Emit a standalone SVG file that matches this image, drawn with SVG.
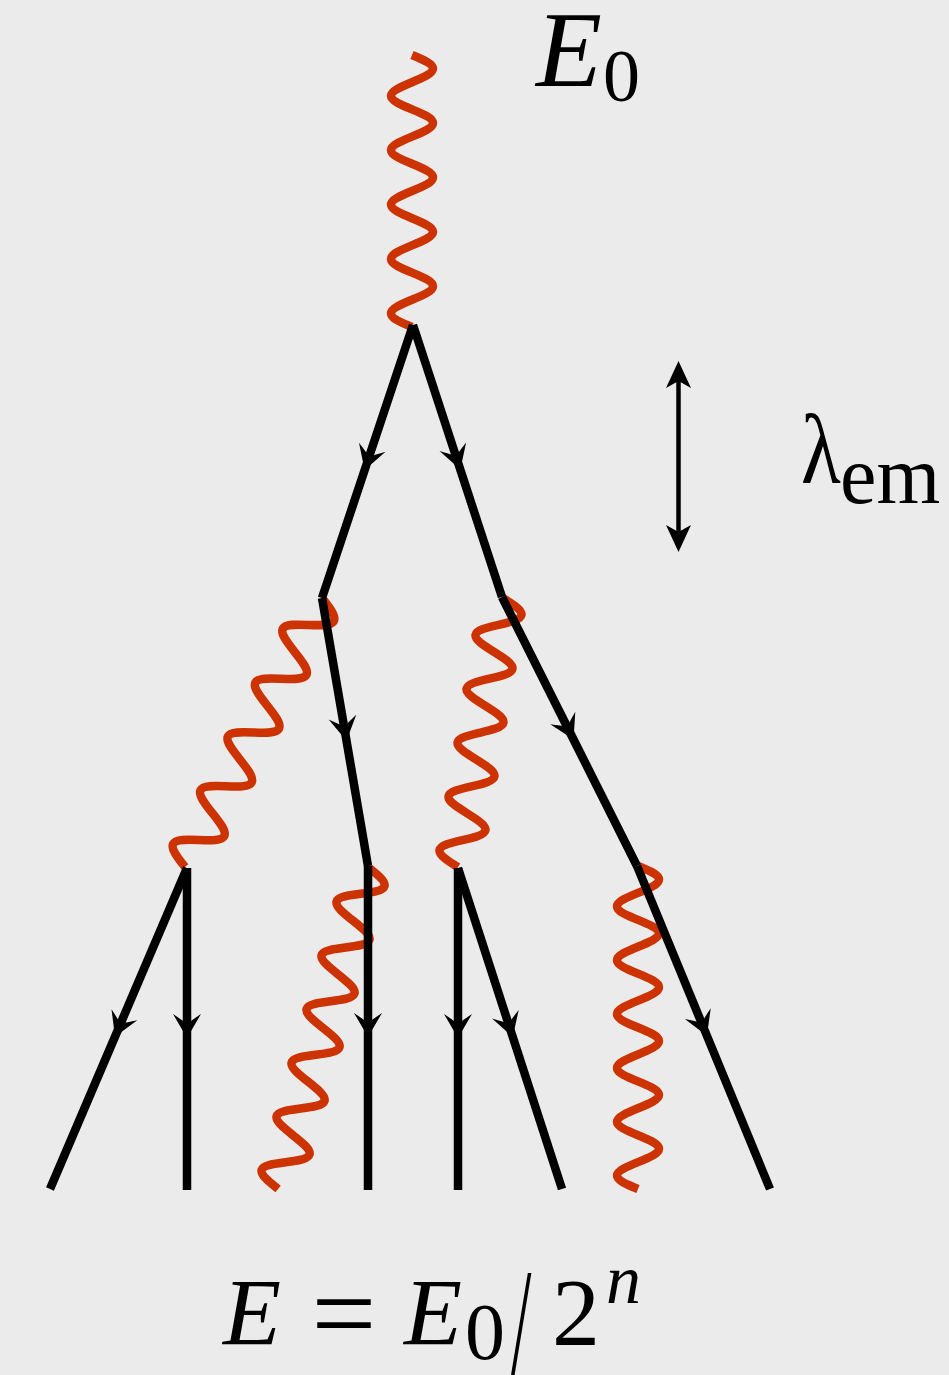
<svg xmlns="http://www.w3.org/2000/svg" width="949" height="1375" viewBox="0 0 949 1375">
<style>
.ph{fill:none;stroke:#cc3300;stroke-width:8.5;stroke-linecap:butt;stroke-linejoin:round}
.fe{fill:none;stroke:#000;stroke-width:8.5;stroke-linecap:butt;stroke-linejoin:miter;marker-mid:url(#ah)}
.tx{font-family:"Liberation Serif","Times New Roman",serif;fill:#000}
.it{font-style:italic}
</style>
<defs>
<marker id="ah" markerUnits="userSpaceOnUse" viewBox="-25 -25 50 50" markerWidth="50" markerHeight="50" refX="0" refY="0" orient="auto">
<path d="M9,0 L-15,-14 Q-9,-5 -5,0 Q-9,5 -15,14 Z" fill="#000"/>
</marker>
</defs>
<rect width="949" height="1375" fill="#ebebeb"/>
<g id="photons">
<path id="photon-top" class="ph" transform="translate(412,55)" d="M0,0 c10.76,4.43 21,8.68 21,13.6 s-10.24,9.17 -21,13.6 s-21,8.68 -21,13.6 s10.24,9.17 21,13.6 s21,8.68 21,13.6 s-10.24,9.17 -21,13.6 s-21,8.68 -21,13.6 s10.24,9.17 21,13.6 s21,8.68 21,13.6 s-10.24,9.17 -21,13.6 s-21,8.68 -21,13.6 s10.24,9.17 21,13.6 s21,8.68 21,13.6 s-10.24,9.17 -21,13.6 s-21,8.68 -21,13.6 s10.24,9.17 21,13.6 s21,8.68 21,13.6 s-10.24,9.17 -21,13.6 s-21,8.68 -21,13.6 s10.24,9.17 21,13.6"/>
<path id="photon-left" class="ph" transform="translate(322,598) rotate(27)" d="M0,0 c10.76,4.92 21,9.63 21,15.09 s-10.24,10.17 -21,15.09 s-21,9.63 -21,15.09 s10.24,10.17 21,15.09 s21,9.63 21,15.09 s-10.24,10.17 -21,15.09 s-21,9.63 -21,15.09 s10.24,10.17 21,15.09 s21,9.63 21,15.09 s-10.24,10.17 -21,15.09 s-21,9.63 -21,15.09 s10.24,10.17 21,15.09 s21,9.63 21,15.09 s-10.24,10.17 -21,15.09 s-21,9.63 -21,15.09 s10.24,10.17 21,15.09 s21,9.63 21,15.09 s-10.24,10.17 -21,15.09 s-21,9.63 -21,15.09 s10.24,10.17 21,15.09"/>
<path id="photon-mid" class="ph" transform="translate(503,598) rotate(9.5)" d="M0,0 c10.76,4.45 21,8.7 21,13.64 s-10.24,9.19 -21,13.64 s-21,8.7 -21,13.64 s10.24,9.19 21,13.64 s21,8.7 21,13.64 s-10.24,9.19 -21,13.64 s-21,8.7 -21,13.64 s10.24,9.19 21,13.64 s21,8.7 21,13.64 s-10.24,9.19 -21,13.64 s-21,8.7 -21,13.64 s10.24,9.19 21,13.64 s21,8.7 21,13.64 s-10.24,9.19 -21,13.64 s-21,8.7 -21,13.64 s10.24,9.19 21,13.64 s21,8.7 21,13.64 s-10.24,9.19 -21,13.64 s-21,8.7 -21,13.64 s10.24,9.19 21,13.64"/>
<path id="photon-low-left" class="ph" transform="translate(368,867) rotate(15.6)" d="M0,0 c10.76,4.54 21,8.89 21,13.93 s-10.24,9.39 -21,13.93 s-21,8.89 -21,13.93 s10.24,9.39 21,13.93 s21,8.89 21,13.93 s-10.24,9.39 -21,13.93 s-21,8.89 -21,13.93 s10.24,9.39 21,13.93 s21,8.89 21,13.93 s-10.24,9.39 -21,13.93 s-21,8.89 -21,13.93 s10.24,9.39 21,13.93 s21,8.89 21,13.93 s-10.24,9.39 -21,13.93 s-21,8.89 -21,13.93 s10.24,9.39 21,13.93 s21,8.89 21,13.93 s-10.24,9.39 -21,13.93 s-21,8.89 -21,13.93 s10.24,9.39 21,13.93 s21,8.89 21,13.93 s-10.24,9.39 -21,13.93 s-21,8.89 -21,13.93 s10.24,9.39 21,13.93"/>
<path id="photon-low-right" class="ph" transform="translate(638,866)" d="M0,0 c10.76,4.39 21,8.59 21,13.46 s-10.24,9.07 -21,13.46 s-21,8.59 -21,13.46 s10.24,9.07 21,13.46 s21,8.59 21,13.46 s-10.24,9.07 -21,13.46 s-21,8.59 -21,13.46 s10.24,9.07 21,13.46 s21,8.59 21,13.46 s-10.24,9.07 -21,13.46 s-21,8.59 -21,13.46 s10.24,9.07 21,13.46 s21,8.59 21,13.46 s-10.24,9.07 -21,13.46 s-21,8.59 -21,13.46 s10.24,9.07 21,13.46 s21,8.59 21,13.46 s-10.24,9.07 -21,13.46 s-21,8.59 -21,13.46 s10.24,9.07 21,13.46 s21,8.59 21,13.46 s-10.24,9.07 -21,13.46 s-21,8.59 -21,13.46 s10.24,9.07 21,13.46"/>
</g>
<g id="fermions">
<path class="fe" d="M413,325 L367.5,461.5 L322,598"/>
<path class="fe" d="M413,325 L457.5,461 L502,597"/>
<path class="fe" d="M502,597 L569.5,731.5 L637,866"/>
<path class="fe" d="M637,866 L703.5,1027.5 L770,1189"/>
<path class="fe" d="M322,598 L345,732 L368,866"/>
<path class="fe" d="M368,866 L368,1028 L368,1190"/>
<path class="fe" d="M187,868 L118.5,1028.5 L50,1189"/>
<path class="fe" d="M187,868 L187,1029 L187,1190"/>
<path class="fe" d="M458,868 L458,1029 L458,1190"/>
<path class="fe" d="M458,868 L510,1028.5 L562,1189"/>
</g>
<g id="scale-arrow">
<line x1="678.5" y1="375" x2="678.5" y2="540" stroke="#000" stroke-width="4.5"/>
<path d="M678.5,361 L691,388 L678.5,381 L666,388 Z" fill="#000"/>
<path d="M678.5,552 L691,525 L678.5,532 L666,525 Z" fill="#000"/>
</g>
<g id="label-E0">
<text class="tx it" x="536" y="86" font-size="108">E</text>
<text class="tx" x="603" y="101" font-size="74">0</text>
</g>
<g id="label-lambda">
<text class="tx" transform="translate(801,483) scale(0.82,1)" font-size="100">λ</text>
<text class="tx" x="840" y="503" font-size="82">em</text>
</g>
<g id="label-formula">
<text class="tx it" x="223" y="1345" font-size="95">E</text>
<text class="tx" x="311.6" y="1352" font-size="115">=</text>
<text class="tx it" x="404" y="1345" font-size="95">E</text>
<text class="tx" x="465" y="1359" font-size="80">0</text>
<text class="tx" transform="translate(511,1374) scale(0.6,1.25)" font-size="122">/</text>
<text class="tx" x="552" y="1345" font-size="96">2</text>
<text class="tx it" x="606" y="1303" font-size="70">n</text>
</g>
</svg>
